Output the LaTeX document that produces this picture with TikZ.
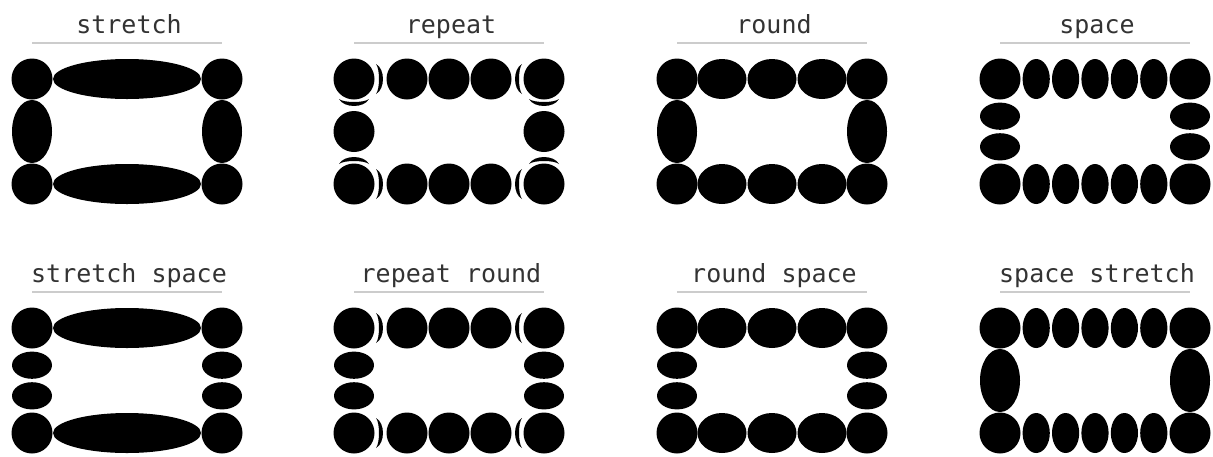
\documentclass[tikz,border=0pt]{standalone}
\usepackage{fontspec}
\setmonofont{DejaVu Sans Mono}
\tikzset{
  ttl/.style={anchor=base, font=\ttfamily\fontsize{25}{30}\selectfont, text=black!80, inner sep=0pt},
  rulebar/.style={draw=black!20, line width=2pt},
  blob/.style={fill=black}
}
% corners
\newcommand\bcorners{%
  \fill[blob] (20,20) circle[radius=20.5pt] (210,20) circle[radius=20.5pt]
                (20,125) circle[radius=20.5pt] (210,125) circle[radius=20.5pt];}
% crescents
\newcommand\hcres[3]{% x0, yc, dir
  \fill[blob] ({#1},{#2-15}) .. controls ({#1+#3*9.3},{#2-10}) and ({#1+#3*9.3},{#2+10}) .. ({#1},{#2+15})
     .. controls ({#1+#3*4},{#2+10}) and ({#1+#3*4},{#2-10}) .. cycle;}
\newcommand\vcres[3]{% xc, y0, dir
  \fill[blob] ({#1-15},{#2}) .. controls ({#1-10},{#2+#3*9.3}) and ({#1+10},{#2+#3*9.3}) .. ({#1+15},{#2})
     .. controls ({#1+10},{#2+#3*4}) and ({#1-10},{#2+#3*4}) .. cycle;}
% horizontal edges
\newcommand\bhstretch{%
  \fill[blob] (115,20) ellipse[x radius=74pt, y radius=20pt] (115,125) ellipse[x radius=74pt, y radius=20pt];}
\newcommand\bhrepeat{%
  \foreach \yy in {20,125}{
    \foreach \xx in {73,115,157}{\fill[blob] (\xx,\yy) circle[radius=20.5pt];}
    \hcres{42}{\yy}{1}
    \hcres{188}{\yy}{-1}
  }}
\newcommand\bhround{%
  \foreach \yy in {20,125}{
    \foreach \xx in {65,115,165}{\fill[blob] (\xx,\yy) ellipse[x radius=24.5pt, y radius=20pt];}
  }}
\newcommand\bhspace{%
  \foreach \yy in {20,125}{
    \foreach \xx in {56.2,85.6,115,144.4,173.8}{\fill[blob] (\xx,\yy) ellipse[x radius=13.6pt, y radius=20pt];}
  }}
% vertical edges
\newcommand\bvstretch{%
  \fill[blob] (20,72.5) ellipse[x radius=20pt, y radius=31.5pt] (210,72.5) ellipse[x radius=20pt, y radius=31.5pt];}
\newcommand\bvround{\bvstretch}
\newcommand\bvrepeat{%
  \foreach \xx in {20,210}{
    \fill[blob] (\xx,72.5) circle[radius=20.5pt];
    \vcres{\xx}{40}{1}
    \vcres{\xx}{105}{-1}
  }}
\newcommand\bvspace{%
  \foreach \xx in {20,210}{
    \foreach \yy in {57.2,87.8}{\fill[blob] (\xx,\yy) ellipse[x radius=20pt, y radius=13.6pt];}
  }}
% panel: X, Y, title, horiz, vert, name
\newcommand\bpanel[6]{%
  \begin{scope}[shift={(#1,#2)}]
    \node[ttl] (#6) at (117,-26) {#3};
    \draw[rulebar] (20,-16) -- (210,-16);
    \bcorners
    \csname bh#4\endcsname
    \csname bv#5\endcsname
  \end{scope}}
\begin{document}
\begin{tikzpicture}[x=1pt, y=-1pt]
  \useasboundingbox[fill=white] (0,0) rectangle (1213,456);
  \bpanel{12}{59}{stretch}{stretch}{stretch}{t1}
  \bpanel{334}{59}{repeat}{repeat}{repeat}{t2}
  \bpanel{657}{59}{round}{round}{round}{t3}
  \bpanel{980}{59}{space}{space}{space}{t4}
  \bpanel{12}{308}{stretch space}{stretch}{space}{t5}
  \bpanel{334}{308}{repeat round}{repeat}{space}{t6}
  \bpanel{657}{308}{round space}{round}{space}{t7}
  \bpanel{980}{308}{space stretch}{space}{stretch}{t8}
\end{tikzpicture}
\end{document}
